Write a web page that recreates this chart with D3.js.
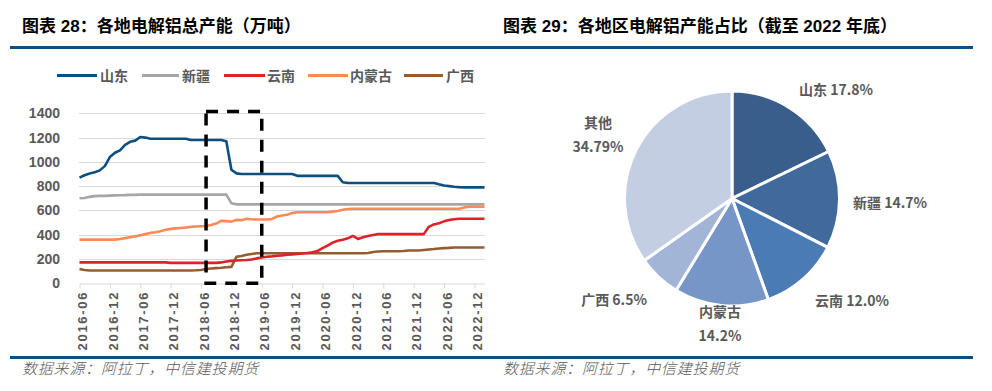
<!DOCTYPE html>
<html><head><meta charset="utf-8">
<script src="https://cdn.jsdelivr.net/npm/d3@7"></script>
<style>
html,body{margin:0;padding:0;background:#fff;}
svg{display:block;}
</style></head>
<body>
<svg id="c" width="992" height="391"></svg>
<script>
// ---------- DATA ----------
const startMonth = "2016-06";
const monthCount = 81; // 2016-06 .. 2023-02
const seriesNames = ["山东", "新疆", "云南", "内蒙古", "广西"];
const shandong = [870,890,905,915,930,965,1040,1075,1095,1140,1165,1175,1205,1200,1190,1190,1190,1190,1190,1190,1190,1190,1180,1180,1180,1180,1180,1180,1180,1170,935,905,900,900,900,900,900,900,900,900,900,900,900,885,885,885,885,885,885,885,885,885,832,826,826,826,826,826,826,826,826,826,826,826,826,826,826,826,826,826,826,815,805,800,795,792,790,790,790,790,790];
const xinjiang = [700,703,712,718,720,720,722,724,725,726,728,728,730,730,730,730,730,730,730,730,730,730,730,730,730,730,730,730,730,730,660,650,650,650,650,650,650,650,650,650,650,650,650,650,650,650,650,650,650,650,650,650,650,650,650,650,650,650,650,650,650,650,650,650,650,650,650,650,650,650,650,650,650,650,650,650,650,650,650,650,650];
const yunnan = [172,172,172,172,172,172,172,172,172,172,172,172,172,172,172,172,172,172,168,168,168,168,168,168,168,168,168,168,172,180,185,188,190,192,196,205,212,218,222,227,230,235,238,242,245,250,255,265,290,310,335,350,358,370,390,365,380,390,398,405,405,405,405,405,405,405,405,405,405,465,485,495,510,522,528,532,532,532,532,532,532];
const neimenggu = [360,360,360,360,360,360,360,360,365,372,380,385,395,405,415,420,428,440,448,452,456,460,465,468,470,472,480,492,515,512,508,522,520,532,528,525,525,525,530,550,558,565,578,585,585,585,585,585,585,585,590,595,605,612,614,614,614,614,614,614,614,614,614,614,614,614,614,614,614,614,614,614,614,614,614,614,625,630,630,630,630];
const guangxi = [118,110,105,105,105,105,105,105,105,105,105,105,105,105,105,105,105,105,105,105,105,105,105,107,110,118,122,125,128,132,135,218,225,235,242,248,248,248,248,248,248,248,248,248,248,248,248,248,248,248,248,248,248,248,248,248,248,250,258,262,264,264,264,264,266,270,270,270,274,278,282,287,290,292,295,295,295,295,295,295,295];
const yTicks = [0,200,400,600,800,1000,1200,1400];
const xTickLabels = ["2016-06","2016-12","2017-06","2017-12","2018-06","2018-12","2019-06","2019-12","2020-06","2020-12","2021-06","2021-12","2022-06","2022-12"];
const boxRange = ["2018-07","2019-06"];
const boxTop = 1415;

const pieNames = ["山东","新疆","云南","内蒙古","广西","其他"];
const pieValues = [17.8,14.7,12.0,14.2,6.5,34.79];
const pieLabels = ["17.8%","14.7%","12.0%","14.2%","6.5%","34.79%"];

// ---------- STYLE ----------
const lineColors = ["#0e4f80","#a6a6a6","#e0202b","#fd8a55","#955b31"];
const pieColors = ["#3a5e8b","#41699c","#4a7bb5","#7596c6","#a3b5d6","#c3cee3"];
const ruleColor = "#0b5080";
const txtGrey = "#595959";
const cjk = "'Liberation Sans','Noto Sans CJK SC',sans-serif";

const svg = d3.select("#c");

// months
const parse = d3.timeParse("%Y-%m");
const fmt = d3.timeFormat("%Y-%m");
const t0 = parse(startMonth);
const months = d3.range(monthCount).map(i => fmt(d3.timeMonth.offset(t0, i)));

// titles & rules
svg.append("text").attr("x",22).attr("y",32).attr("font-family",cjk).attr("font-weight","bold")
  .attr("font-size",17).attr("fill","#000").text("图表 28：各地电解铝总产能（万吨）");
svg.append("text").attr("x",503).attr("y",32).attr("font-family",cjk).attr("font-weight","bold")
  .attr("font-size",17).attr("fill","#000").text("图表 29：各地区电解铝产能占比（截至 2022 年底）");
svg.append("rect").attr("x",10).attr("y",46).attr("width",963).attr("height",3).attr("fill",ruleColor);
svg.append("rect").attr("x",10).attr("y",356).attr("width",963).attr("height",3).attr("fill",ruleColor);
[[22,374],[503,374]].forEach(p=>{
  svg.append("text").attr("x",p[0]).attr("y",p[1]).attr("font-family","'Noto Sans CJK SC',sans-serif")
    .attr("font-style","italic").attr("font-weight",300).attr("font-size",15).attr("letter-spacing",0.8)
    .attr("fill",txtGrey).text("数据来源：阿拉丁，中信建投期货");
});

// ---------- LINE CHART ----------
const x = d3.scalePoint().domain(months).range([79.5, 484.5]);
const y = d3.scaleLinear().domain([0,1400]).range([283.3,113.3]);

const g = svg.append("g");
// grid
g.selectAll("line.grid").data(yTicks.filter(v=>v>0)).join("line")
  .attr("x1",79).attr("x2",485).attr("y1",d=>Math.round(y(d))+0.5).attr("y2",d=>Math.round(y(d))+0.5)
  .attr("stroke","#d9d9d9").attr("stroke-width",1.2);
// y labels
g.selectAll("text.yl").data(yTicks).join("text")
  .attr("x",60).attr("y",d=>y(d)).attr("dy","0.36em").attr("text-anchor","end")
  .attr("font-family",cjk).attr("font-weight","bold").attr("font-size",14).attr("fill",txtGrey)
  .text(d=>d);
// x axis
const xAxis = d3.axisBottom(x).tickValues(xTickLabels).tickSize(5).tickSizeOuter(0);
const ax = g.append("g").attr("transform",`translate(0,${Math.round(y(0))+0.5})`).call(xAxis);
ax.select(".domain").attr("stroke","#d9d9d9").attr("stroke-width",1.2);
ax.selectAll(".tick line").attr("stroke","#d9d9d9");
ax.selectAll(".tick text").attr("transform","rotate(-90)").attr("text-anchor","end")
  .attr("x",-9).attr("y",2.5).attr("dy","0.36em")
  .attr("font-family",cjk).attr("font-weight","bold").attr("font-size",13).attr("fill",txtGrey)
  .attr("textLength",58).attr("lengthAdjust","spacing");

// lines
const seriesData = [shandong, xinjiang, yunnan, neimenggu, guangxi];
const line = d3.line().x((d,i)=>x(months[i])).y(d=>y(d)).curve(d3.curveLinear);
[1,0,3,4,2].forEach(k=>{
  g.append("path").datum(seriesData[k]).attr("d",line).attr("fill","none")
    .attr("stroke",lineColors[k]).attr("stroke-width",2.6).attr("stroke-linejoin","round");
});

// dashed box
const bx0 = x(boxRange[0]), bx1 = x(boxRange[1]);
g.append("rect").attr("x",bx0).attr("y",y(boxTop)).attr("width",bx1-bx0).attr("height",y(0)-y(boxTop))
  .attr("fill","none").attr("stroke","#000").attr("stroke-width",3.5).attr("stroke-dasharray","12,9");

// legend
const legPos = [[57,97,100],[142,179,182],[224,265,267],[308,348,350],[404,443,446]];
seriesNames.forEach((n,k)=>{
  const p = legPos[k];
  svg.append("line").attr("x1",p[0]).attr("x2",p[1]).attr("y1",75.5).attr("y2",75.5)
    .attr("stroke",lineColors[k]).attr("stroke-width",3);
  svg.append("text").attr("x",p[2]).attr("y",75.5).attr("dy","0.36em")
    .attr("font-family",cjk).attr("font-weight","bold").attr("font-size",14).attr("fill",txtGrey).text(n);
});

// ---------- PIE ----------
const cx = 732, cy = 198.5, R = 107.5;
const pie = d3.pie().sort(null).value(d=>d)(pieValues);
const arc = d3.arc().innerRadius(0).outerRadius(R);
const pg = svg.append("g").attr("transform",`translate(${cx},${cy})`);
pg.selectAll("path").data(pie).join("path").attr("d",arc)
  .attr("fill",(d,i)=>pieColors[i]).attr("stroke","#fff").attr("stroke-width",3).attr("stroke-linejoin","round");

// label layout: [dx, dy, twoLines]
const labLayout = [[104,-109,false],[158,4,false],[120,102,false],[-12,113,true],[-118,101,false],[-134,-76,true]];
pie.forEach((d,i)=>{
  const L = labLayout[i];
  const t = pg.append("text").attr("text-anchor","middle")
    .attr("font-family","'Noto Sans CJK SC',sans-serif").attr("font-weight","bold").attr("font-size",14)
    .attr("fill",txtGrey);
  if(L[2]){
    t.append("tspan").attr("x",L[0]).attr("y",L[1]).attr("dy","0.36em").text(pieNames[i]);
    t.append("tspan").attr("x",L[0]).attr("y",L[1]+24).attr("dy","0.36em").text(pieLabels[i]);
  } else {
    t.attr("x",L[0]).attr("y",L[1]).attr("dy","0.36em").text(pieNames[i]+" "+pieLabels[i]);
  }
});
</script>
</body></html>
